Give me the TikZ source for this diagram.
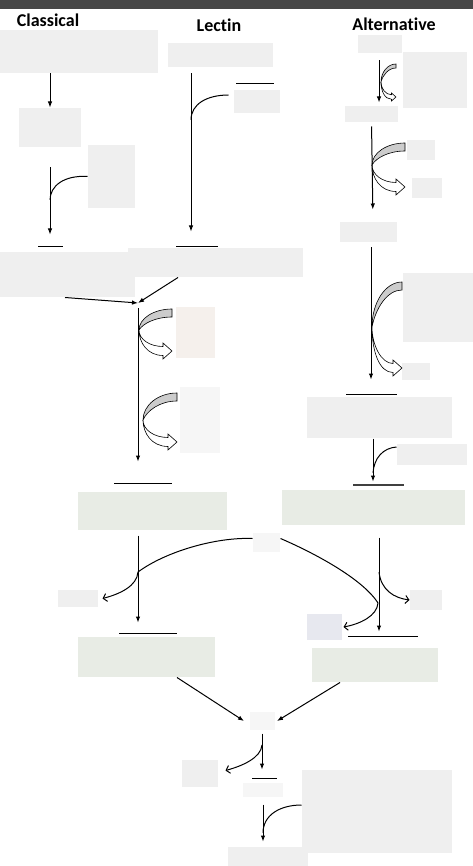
\documentclass[tikz,border=0pt]{standalone}
\usepackage{fontspec}
\setmainfont{Carlito}[Ligatures=NoCommon]
\usetikzlibrary{arrows.meta}

\definecolor{boxgray}{HTML}{EFEFEF}
\definecolor{boxlight}{HTML}{F6F6F6}
\definecolor{boxgreen}{HTML}{E8ECE5}
\definecolor{boxblue}{HTML}{E7E8EF}
\definecolor{boxpink}{HTML}{F5F0EC}

% curved block arrow: left point (#1,#2), width #3, rise #4, drop #5, thickness #6
\newcommand{\bentarrow}[6]{%
  \begin{scope}[shift={(#1,#2)}, line width=0.6pt]
    \filldraw[fill=gray!40] (#3,-#4) .. controls ({0.45*#3},-#4) and (0,{-0.55*#4}) .. (0,0)
      .. controls ({0.12*#3},{-0.5*(#4-8*#6)}) and ({0.5*#3},{8*#6-#4}) .. (#3,{8*#6-#4}) -- cycle;
    \filldraw[fill=white] (0,0) .. controls (0,{0.45*#5}) and ({0.45*(#3-9*#6)},{#5-4.5*#6}) .. ({#3-9*#6},{#5-4.5*#6})
      -- ({#3-9*#6},{#5-8*#6}) -- (#3,#5) -- ({#3-9*#6},{#5+8*#6}) -- ({#3-9*#6},{#5+4.5*#6})
      .. controls ({0.35*(#3-9*#6)},{#5+4.5*#6}) and (0,{0.6*#5}) .. (0,0) -- cycle;
  \end{scope}}

\begin{document}
\begin{tikzpicture}[x=1pt,y=-1pt,line width=1pt]
\tikzstyle{masked}=[fill=boxgray, inner sep=0pt]
\tikzstyle{title}=[font=\bfseries\fontsize{18}{21}\selectfont]
\tikzstyle{arr}=[-{Latex[length=6pt,width=4.5pt]}]
\tikzstyle{cut}=[-{Straight Barb[length=3.5pt,width=8pt]}]

\useasboundingbox (0,0) rectangle (473,866);
\fill[black!72] (0,0) rectangle (473,9);

\node[title] (tcl) at (48,20) {Classical};
\node[title] (tle) at (219,25) {Lectin};
\node[title] (tal) at (394,24) {Alternative};

% classical
\node[masked, minimum width=158pt, minimum height=43pt] (c1) at (79,51.5) {};
\node[masked, minimum width=62pt, minimum height=39pt] (c2) at (50,127.5) {};
\node[masked, minimum width=47pt, minimum height=63pt] (c2s) at (111.5,176.5) {};
\node[masked, minimum width=135pt, minimum height=45pt] (c3) at (67.5,274.5) {};

% lectin
\node[masked, minimum width=105pt, minimum height=24pt] (l1) at (220.5,55) {};
\node[masked, minimum width=46pt, minimum height=23pt] (l1s) at (257,101.5) {};
\node[masked, minimum width=175pt, minimum height=29pt] (l2) at (215.5,262.5) {};

% alternative
\node[masked, minimum width=44pt, minimum height=18pt] (a1) at (380,44) {};
\node[masked, minimum width=64pt, minimum height=56pt] (a1s) at (435,80) {};
\node[masked, minimum width=53pt, minimum height=16pt] (a2) at (371.5,114) {};
\node[masked, minimum width=28pt, minimum height=20pt] (a2s1) at (421,150) {};
\node[masked, minimum width=30pt, minimum height=20pt] (a2s2) at (427,188) {};
\node[masked, minimum width=57pt, minimum height=20pt] (a3) at (368.5,232) {};
\node[masked, minimum width=70pt, minimum height=69pt] (a3s) at (438,307.5) {};
\node[masked, minimum width=28pt, minimum height=17pt] (a3s2) at (416,371.5) {};
\node[masked, minimum width=145pt, minimum height=41pt] (a4) at (379.5,417.5) {};
\node[masked, minimum width=70pt, minimum height=21pt] (a4s) at (432,454.5) {};

% common part
\node[masked, fill=boxpink, minimum width=39pt, minimum height=51pt] (m1s) at (195.5,332.5) {};
\node[masked, fill=boxlight, minimum width=40pt, minimum height=66pt] (m2s) at (200,420) {};
\node[masked, fill=boxgreen, minimum width=149pt, minimum height=38pt] (g1) at (152.5,511) {};
\node[masked, fill=boxgreen, minimum width=183pt, minimum height=35pt] (g2) at (373.5,507.5) {};
\node[masked, fill=boxlight, minimum width=27pt, minimum height=19pt] (cb) at (266.5,542.5) {};
\node[masked, minimum width=40pt, minimum height=17pt] (ls) at (78,598.5) {};
\node[masked, minimum width=32pt, minimum height=20pt] (rs) at (426,600) {};
\node[masked, fill=boxblue, minimum width=35pt, minimum height=26pt] (bs) at (324.5,627) {};
\node[masked, fill=boxgreen, minimum width=137pt, minimum height=40pt] (g3) at (146.5,657) {};
\node[masked, fill=boxgreen, minimum width=126pt, minimum height=34pt] (g4) at (375,665) {};
\node[masked, fill=boxlight, minimum width=25pt, minimum height=18pt] (c5) at (262,721) {};
\node[masked, minimum width=36pt, minimum height=27pt] (c5s) at (200,773.5) {};
\node[masked, fill=boxlight, minimum width=40pt, minimum height=14pt] (c6) at (263,790) {};
\node[masked, minimum width=150pt, minimum height=83pt] (c6s) at (377,811.5) {};
\node[masked, minimum width=80pt, minimum height=19pt] (c7) at (268,856.5) {};

% classical
\draw[arr] (c1.south -| c2.north) -- (c2.north);
\draw[arr, shorten <=20pt, shorten >=17pt] (c2.south) -- (c2.south |- c3.north);
\coordinate (h1) at (50,200);
\draw (h1) .. controls (50,186) and (64,175) .. (c2s.west);
\draw (38,247) -- (63,247);

% lectin
\draw[arr, shorten <=6pt, shorten >=16pt] ([xshift=-29.5pt]l1.south) -- ([xshift=-24.5pt]l2.north);
\coordinate (h2) at (191,120);
\draw (h2) .. controls (191,104) and (207,95) .. ([xshift=-5pt,yshift=6.5pt]l1s.west);
\draw (236,84) -- (274,84);
\draw (176,247) -- (218,247);

% classical + lectin
\coordinate (j) at (138,303);
\draw[arr] ([xshift=-2.5pt]c3.south) -- (j);
\draw[arr] ([xshift=-37.5pt]l2.south) -- (j);
\draw[arr, shorten <=5pt, shorten >=30pt] (j) -- (j |- g1.north);
\bentarrow{139}{330}{33}{21}{21}{1}
\bentarrow{143}{420}{34}{27}{22}{1}
\draw (114,483) -- (172,483);

% alternative
\draw[arr, shorten <=7pt, shorten >=3pt] ([xshift=-1pt]a1.south) -- ([xshift=7.5pt]a2.north);
\bentarrow{381}{82}{15}{18}{15}{0.5}
\draw[arr, shorten <=4pt, shorten >=12pt] (a2.south) -- ([xshift=4.5pt]a3.north);
\bentarrow{372}{165}{33}{22}{22}{1}
\draw[arr, shorten <=5pt, shorten >=17pt] ([xshift=2.5pt]a3.south) -- ([xshift=-8.5pt]a4.north);
\bentarrow{372}{327}{30}{45}{41}{1}
\draw (346,394) -- (397,394);
\draw[arr, shorten >=8pt] ([xshift=-6.5pt]a4.south) -- ([xshift=-0.5pt]g2.north);
\coordinate (h3) at (373,473);
\draw (h3) .. controls (374,458) and (383,448) .. ([yshift=7.5pt]a4s.west);
\draw[line width=1.6pt, black!75] (353,485) -- (404,485);

% lower part
\draw[arr, shorten <=5pt, shorten >=14pt] (j |- g1.south) -- (j |- g3.north);
\coordinate (k1) at (138,572);
\draw ([yshift=4pt]cb.west) .. controls (215,537) and (165,552) .. (k1);
\draw[cut] (k1) .. controls (137,586) and (120,594) .. ([xshift=4pt]ls.east);
\coordinate (k2) at (378,603);
\draw ([yshift=4pt]cb.east) .. controls (312,552) and (362,578) .. (k2);
\draw[cut] (k2) .. controls (377,616) and (360,624) .. ([xshift=1pt]bs.east);
\draw[arr, shorten <=12pt, shorten >=16pt] ([xshift=5.5pt]g2.south) -- ([xshift=4pt]g4.north);
\coordinate (k3) at (379,572);
\draw[cut] (k3) .. controls (381,590) and (394,598) .. (rs.west);
\draw (119,633) -- (177,633);
\draw (348,636) -- (418,636);

\draw[arr] ([xshift=30.5pt]g3.south) -- ([xshift=-5pt]c5.west);
\draw[arr] ([xshift=-35pt]g4.south) -- ([xshift=2pt]c5.east);
\draw[arr, shorten <=3pt, shorten >=13pt] (c5.south) -- (c5.south |- c6.north);
\coordinate (k4) at (262,745);
\draw[cut] (k4) .. controls (261,758) and (242,766) .. ([xshift=7pt,yshift=3pt]c5s.east);
\draw (252,778) -- (277,778);
\draw[arr, shorten <=7pt, shorten >=5pt] (c6.south) -- (c6.south |- c7.north);
\coordinate (h4) at (263,833);
\draw (h4) .. controls (263,815) and (280,805) .. ([yshift=6.5pt]c6s.west);
\end{tikzpicture}
\end{document}
